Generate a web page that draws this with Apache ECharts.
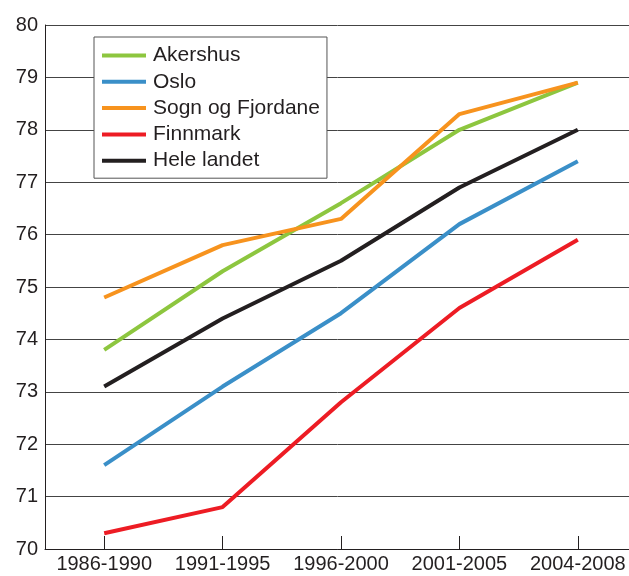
<!DOCTYPE html>
<html>
<head>
<meta charset="utf-8">
<script src="https://cdn.jsdelivr.net/npm/echarts@6/dist/echarts.min.js"></script>
<style>
  html, body { margin: 0; padding: 0; background: #fff; }
  #chart { width: 629px; height: 576px; }
</style>
</head>
<body>
<div id="chart"></div>
<script>
// periods on the x axis
const periods = ['1986-1990', '1991-1995', '1996-2000', '2001-2005', '2004-2008'];

// life expectancy per region
const akershus = [73.8, 75.3, 76.6, 78.0, 78.9];
const oslo = [71.6, 73.1, 74.5, 76.2, 77.4];
const sognOgFjordane = [74.8, 75.8, 76.3, 78.3, 78.9];
const finnmark = [70.3, 70.8, 72.8, 74.6, 75.9];
const heleLandet = [73.1, 74.4, 75.5, 76.9, 78.0];

const yMin = 70;
const yMax = 80;

let chartDom = document.getElementById('chart');
let myChart = echarts.init(chartDom);

function line(name, data, color) {
  return {
    name: name,
    type: 'line',
    data: data,
    symbol: 'none',
    lineStyle: { color: color, width: 4 },
    itemStyle: { color: color },
    z: 3
  };
}

let option = {
  animation: false,
  textStyle: { fontFamily: 'Liberation Sans, Arial, sans-serif' },
  grid: {
    left: 45,
    top: 25,
    width: 592,
    height: 524,
    containLabel: false,
    outerBoundsMode: 'none'
  },
  legend: {
    orient: 'vertical',
    left: 94,
    top: 37,
    padding: [8, 7, 7, 8],
    backgroundColor: '#fff',
    borderColor: '#555',
    borderWidth: 1,
    itemWidth: 44,
    itemHeight: 4,
    itemGap: 5.3,
    icon: 'rect',
    textStyle: { fontSize: 21, color: '#231f20', lineHeight: 21, padding: [0, 0, 0, 2] },
    data: ['Akershus', 'Oslo', 'Sogn og Fjordane', 'Finnmark', 'Hele landet']
  },
  xAxis: {
    type: 'category',
    data: periods,
    boundaryGap: true,
    z: 4,
    axisLine: { lineStyle: { color: '#231f20', width: 1 } },
    axisTick: { show: true, alignWithLabel: true, interval: 0, inside: true, length: 13, lineStyle: { color: '#231f20', width: 1 } },
    axisLabel: { interval: 0, hideOverlap: false, fontSize: 20, color: '#231f20', margin: 5 }
  },
  yAxis: {
    type: 'value',
    min: yMin,
    max: yMax,
    interval: 1,
    axisLine: { show: true, lineStyle: { color: '#231f20', width: 1 } },
    axisTick: { show: false },
    axisLabel: { fontSize: 20, color: '#231f20', margin: 7 },
    splitLine: { lineStyle: { color: '#444', width: 1 } }
  },
  series: [
    line('Akershus', akershus, '#8dc63f'),
    line('Oslo', oslo, '#3a8fc8'),
    line('Sogn og Fjordane', sognOgFjordane, '#f7931e'),
    line('Finnmark', finnmark, '#ed1c24'),
    line('Hele landet', heleLandet, '#231f20')
  ]
};

option && myChart.setOption(option);
</script>
</body>
</html>
